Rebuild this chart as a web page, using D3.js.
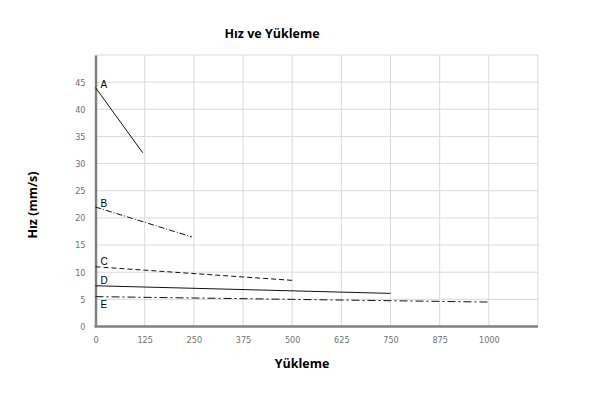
<!DOCTYPE html>
<html><head><meta charset="utf-8">
<script src="https://cdn.jsdelivr.net/npm/d3@7"></script>
<style>body{margin:0;background:#fff}</style>
</head><body>
<svg id="c" width="600" height="400"></svg>
<script>
const seriesNames = ["A","B","C","D","E"];
const xStart = [0,0,0,0,0];
const xEnd = [120,245,500,750,1000];
const yStart = [44,22,11,7.5,5.5];
const yEnd = [32,16.5,8.5,6.1,4.5];
const dashes = [null,"6,2,1,2","5,3",null,"8,3,2,3"];
const xTicks = [0,125,250,375,500,625,750,875,1000];
const yTicks = [0,5,10,15,20,25,30,35,40,45];
const labelY = [44.46,22.6,11.86,8.36,3.97];

const svg = d3.select("#c");
const m = {l:95.5, r:538, t:55, b:326.5};
const x = d3.scaleLinear().domain([0,1125]).range([m.l,m.r]);
const y = d3.scaleLinear().domain([0,50]).range([m.b,m.t]);

// grid
svg.append("g").selectAll("line").data(d3.range(125,1126,125)).join("line")
  .attr("x1",d=>x(d)).attr("x2",d=>x(d)).attr("y1",m.t).attr("y2",m.b)
  .attr("stroke","#d9d9d9").attr("stroke-width",1);
svg.append("g").selectAll("line").data(d3.range(5,51,5)).join("line")
  .attr("x1",m.l).attr("x2",m.r).attr("y1",d=>y(d)).attr("y2",d=>y(d))
  .attr("stroke","#d9d9d9").attr("stroke-width",1);

// axes
const xa = svg.append("g").attr("transform",`translate(0,${m.b})`)
  .call(d3.axisBottom(x).tickValues(xTicks).tickFormat(d3.format("d")).tickSize(0).tickPadding(10));
const ya = svg.append("g").attr("transform",`translate(${m.l},0)`)
  .call(d3.axisLeft(y).tickValues(yTicks).tickFormat(d3.format("d")).tickSize(0).tickPadding(10));
[xa,ya].forEach(a=>{
  a.select(".domain").attr("stroke","#808080").attr("stroke-width",2.5);
  a.selectAll("text").attr("fill","#707070").style("font-family","'DejaVu Sans Condensed','Liberation Sans Narrow',sans-serif").style("font-stretch","condensed").style("font-size","9px");
});
xa.select(".domain").attr("d",`M${m.l-1},0H${m.r}`);

// series
const line = d3.line().x(d=>x(d[0])).y(d=>y(d[1]));
seriesNames.forEach((n,i)=>{
  svg.append("path").datum([[xStart[i],yStart[i]],[xEnd[i],yEnd[i]]])
    .attr("d",line).attr("fill","none").attr("stroke","#111").attr("stroke-width",1)
    .attr("stroke-dasharray",dashes[i]);
  svg.append("text").attr("x",x(0)+5).attr("y",y(labelY[i])+3)
    .text(n).style("font-family","'Liberation Sans',Arial,sans-serif").style("font-size","10px").attr("fill","#000");
});

// titles
svg.append("text").attr("x",272).attr("y",38).attr("text-anchor","middle")
  .style("font-family","'Open Sans','Liberation Sans',sans-serif").style("font-weight","bold").style("font-size","12.5px")
  .text("Hız ve Yükleme");
svg.append("text").attr("x",302).attr("y",368).attr("text-anchor","middle")
  .style("font-family","'Open Sans','Liberation Sans',sans-serif").style("font-weight","bold").style("font-size","12.5px")
  .text("Yükleme");
svg.append("text").attr("transform","translate(37,205) rotate(-90)").attr("text-anchor","middle")
  .style("font-family","'Open Sans','Liberation Sans',sans-serif").style("font-weight","bold").style("font-size","12.5px")
  .text("Hız (mm/s)");
</script>
</body></html>
